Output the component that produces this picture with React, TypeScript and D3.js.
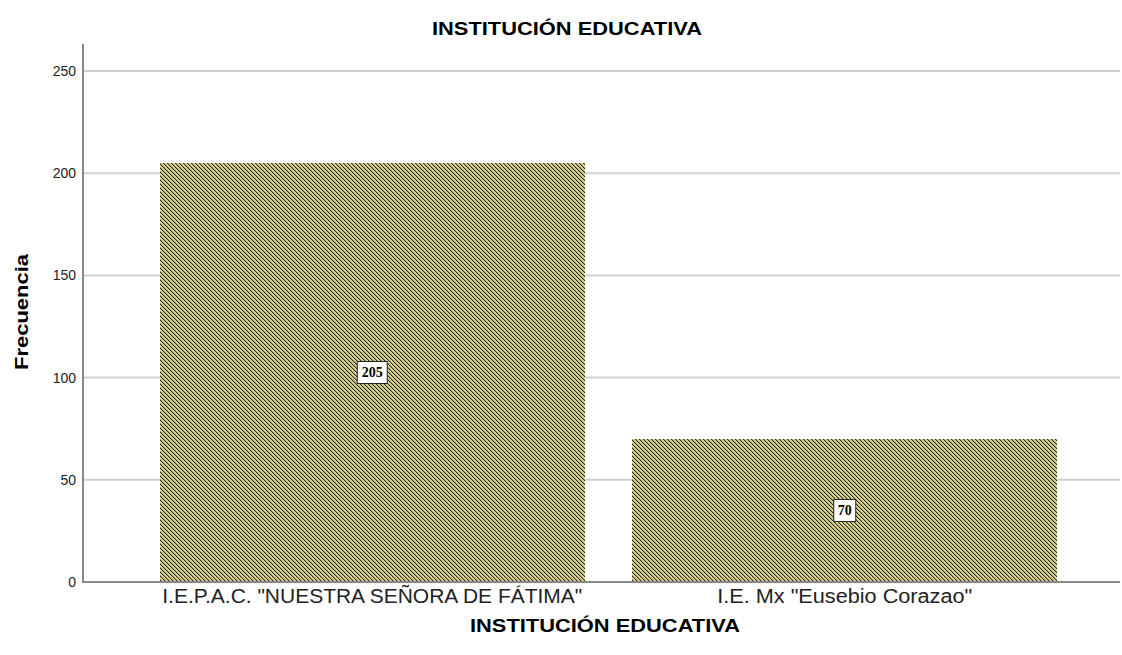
import React from "react";
import * as d3 from "d3";

const categories = ['I.E.P.A.C. "NUESTRA SEÑORA DE FÁTIMA"', 'I.E. Mx "Eusebio Corazao"'];
const values = [205, 70];
const yTicks = [0, 50, 100, 150, 200, 250];
const title = "INSTITUCIÓN EDUCATIVA";
const xTitle = "INSTITUCIÓN EDUCATIVA";
const yTitle = "Frecuencia";
const catLabelLengths = [420, 255];

export default function App() {
  const W = 1122, H = 655;
  const y = d3.scaleLinear().domain([0, 250]).range([582, 71]);
  const x = d3.scaleBand<string>().domain(categories).range([136, 1081]).paddingInner(0.1).paddingOuter(0.05);
  const font = "'Liberation Sans', Arial, sans-serif";
  const diag = [0, 1, 2, 3];
  return (
    <svg width={W} height={H} style={{ position: "absolute", left: 0, top: 0 }}>
      <defs>
        <pattern id="hatch" patternUnits="userSpaceOnUse" width={4} height={4}>
          <rect width={4} height={4} fill="#dad492" shapeRendering="crispEdges" />
          {diag.map((i) => (
            <g key={i} shapeRendering="crispEdges">
              <rect x={i} y={i} width={1} height={1} fill="#2f2e25" />
              <rect x={(i + 1) % 4} y={i} width={1} height={1} fill="#a39e6c" />
            </g>
          ))}
        </pattern>
      </defs>
      <rect width={W} height={H} fill="#fff" />
      <text x={567} y={35} textAnchor="middle" fontFamily={font} fontWeight="bold" fontSize={19} textLength={270} lengthAdjust="spacingAndGlyphs">{title}</text>
      {yTicks.map((t) => (
        <g key={t}>
          {t > 0 && <line x1={84} x2={1120} y1={y(t)} y2={y(t)} stroke="#d0d0d0" strokeWidth={2} />}
          <text x={76} y={y(t) + 5} textAnchor="end" fontFamily={font} fontSize={14} fill="#222">{t}</text>
        </g>
      ))}
      {categories.map((c, i) => (
        <rect key={c} x={Math.round(x(c) as number)} y={Math.round(y(values[i]))} width={Math.round(x.bandwidth())} height={Math.round(y(0) - y(values[i]))} fill="url(#hatch)" />
      ))}
      {categories.map((c, i) => {
        const cx = (x(c) as number) + x.bandwidth() / 2;
        const cy = (y(0) + y(values[i])) / 2;
        const w = String(values[i]).length * 8 + 6;
        return (
          <g key={c + "l"}>
            <rect x={cx - w / 2} y={cy - 11} width={w} height={22} fill="#fff" stroke="#222" strokeWidth={1} />
            <text x={cx} y={cy + 5} textAnchor="middle" fontFamily="'Liberation Serif', 'Times New Roman', serif" fontWeight="bold" fontSize={14}>{values[i]}</text>
          </g>
        );
      })}
      <line x1={83} x2={83} y1={44} y2={583} stroke="#888" strokeWidth={2} />
      <line x1={82} x2={1120} y1={582} y2={582} stroke="#888" strokeWidth={2} />
      {categories.map((c, i) => (
        <text key={c + "x"} x={(x(c) as number) + x.bandwidth() / 2} y={603} textAnchor="middle" fontFamily={font} fontSize={20} fill="#222" textLength={catLabelLengths[i]} lengthAdjust="spacingAndGlyphs">{c}</text>
      ))}
      <text x={605} y={632} textAnchor="middle" fontFamily={font} fontWeight="bold" fontSize={19} textLength={270} lengthAdjust="spacingAndGlyphs">{xTitle}</text>
      <text transform={`translate(28,312) rotate(-90)`} textAnchor="middle" fontFamily={font} fontWeight="bold" fontSize={19} textLength={116} lengthAdjust="spacingAndGlyphs">{yTitle}</text>
    </svg>
  );
}
